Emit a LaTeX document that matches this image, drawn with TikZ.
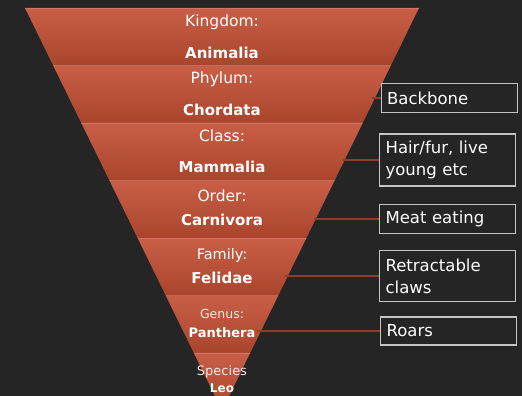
\documentclass[tikz,border=0pt]{standalone}
\usepackage{fontspec}
\setmainfont{DejaVu Sans}
\usetikzlibrary{calc}
\definecolor{bg}{HTML}{252525}
\definecolor{bandtop}{HTML}{C95E47}
\definecolor{bandbot}{HTML}{A9452C}
\definecolor{linkc}{HTML}{8E3F2B}
\definecolor{boxc}{HTML}{C4C4C4}
\tikzset{
  rank/.style={text=white, font=\fontsize{15.5}{16}\selectfont, inner sep=0pt},
  rankb/.style={text=white, font=\fontsize{15}{16}\selectfont\bfseries, inner sep=0pt},
  ranks/.style={text=white!85!bandtop, font=\fontsize{12.5}{13}\selectfont, inner sep=0pt},
  ranksb/.style={text=white, font=\fontsize{13}{13}\selectfont\bfseries, inner sep=0pt},
  infobox/.style={draw=boxc, line width=1.2pt, text=white, anchor=west, align=left,
    font=\fontsize{16.5}{22}\selectfont, minimum width=136pt, inner xsep=6pt, text width=124pt},
  link/.style={draw=linkc, line width=1.5pt}
}
\begin{document}
\begin{tikzpicture}[x=1pt,y=-1pt]
\fill[bg] (0,0) rectangle (522,396);
\useasboundingbox (0,0) rectangle (522,396);
\clip (0,0) rectangle (522,396);
\coordinate (TL) at (25,8);
\coordinate (TR) at (419,8);
\coordinate (A) at (222,410.5);
% connector start points on the triangle edge
\coordinate (e1) at (372,98);
\coordinate (e2) at (343,160);
\coordinate (e3) at (314,219);
\coordinate (e4) at (285,276);
\coordinate (e5) at (257,331);
\foreach \i [evaluate=\i as \t using \i/7, evaluate=\i as \u using (\i+1)/7] in {0,...,6} {
  \shade[top color=bandtop, bottom color=bandbot]
    ($(TL)!\t!(A)$) -- ($(TR)!\t!(A)$) -- ($(TR)!\u!(A)$) -- ($(TL)!\u!(A)$) -- cycle;
  \draw[bandtop!70!white, line width=0.6pt, opacity=0.5] ($(TL)!\t!(A)$) -- ($(TR)!\t!(A)$);
}
% rank texts
\node[rank]  (kingdom)  at (222,22)  {Kingdom:};
\node[rankb] (animalia) at (222,53)  {Animalia};
\node[rank]  (phylum)   at (222,79)  {Phylum:};
\node[rankb] (chordata) at (222,110) {Chordata};
\node[rank]  (class)    at (222,136) {Class:};
\node[rankb] (mammalia) at (222,167) {Mammalia};
\node[rank]  (order)    at (222,196) {Order:};
\node[rankb] (carnivora) at (222,220) {Carnivora};
\node[rank, font=\fontsize{14.5}{15}\selectfont]  (family)   at (222,255) {Family:};
\node[rankb] (felidae)  at (222,278) {Felidae};
\node[ranks] (genus)    at (222,314) {Genus:};
\node[ranksb] (panthera) at (222,333) {Panthera};
\node[ranks, font=\fontsize{13}{13}\selectfont] (species)  at (222,372) {Species};
\node[ranksb, font=\fontsize{12}{12}\selectfont\bfseries] (leo) at (222,388.5) {Leo};
% info boxes
\node[infobox, minimum height=29pt] (backbone) at (380.5,98) {Backbone};
\node[infobox, minimum height=52pt] (hair) at (379,160) {Hair/fur, live\\young etc};
\node[infobox, minimum height=29pt] (meat) at (379,219) {Meat eating};
\node[infobox, minimum height=51pt] (claws) at (379,276) {Retractable\\claws};
\node[infobox, minimum height=28pt] (roars) at (380,331) {Roars};
\draw[link] (e1) -- (backbone.west);
\draw[link] (e2) -- (hair.west);
\draw[link] (e3) -- (meat.west);
\draw[link] (e4) -- (claws.west);
\draw[link] (e5) -- (roars.west);
\end{tikzpicture}
\end{document}
